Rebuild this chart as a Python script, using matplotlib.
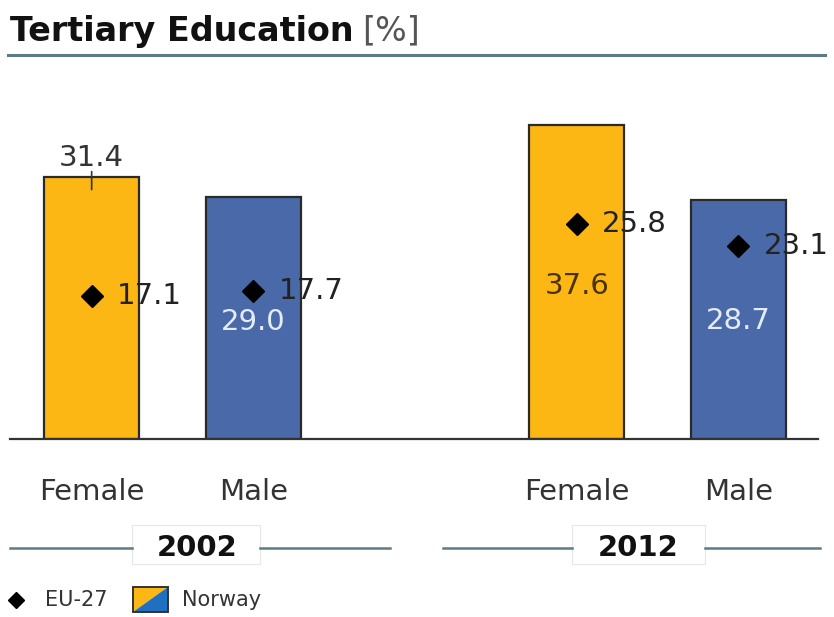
import matplotlib
matplotlib.use("Agg")
import matplotlib.pyplot as plt
from matplotlib.lines import Line2D
from matplotlib.patches import Polygon, Rectangle
import matplotlib.transforms as mtransforms

# ---- data ----
years = ["2002", "2012"]
categories = ["Female", "Male", "Female", "Male"]
bar_year = ["2002", "2002", "2012", "2012"]
norway = [31.4, 29.0, 37.6, 28.7]
eu27 = [17.1, 17.7, 25.8, 23.1]
norway_labels = ["31.4", "29.0", "37.6", "28.7"]
eu27_labels = ["17.1", "17.7", "25.8", "23.1"]

YELLOW = "#FDB714"
BLUE = "#4A69A8"
EDGE = "#2a2a2a"
LINEC = "#5E7B84"
TXT = "#333333"

W, H = 834, 617
fig = plt.figure(figsize=(W / 100, H / 100), dpi=100)
fig.patch.set_facecolor("white")

def fx(px):
    return px / W

def fy(py):
    return 1 - py / H

# axes geometry
unit = 161.7
left_px, right_px = 10, 818
base_py = 439
ppu = 8.34
ymax = 40
ax = fig.add_axes([fx(left_px), fy(base_py), (right_px - left_px) / W, ymax * ppu / H])
center2002 = 172.5
ax.set_xlim((left_px - center2002) / unit, (right_px - center2002) / unit)
ax.set_ylim(0, ymax)

group_center = {"2002": 0.0, "2012": 3.0}
offsets = [-0.5, 0.5, -0.5, 0.5]
xs = [group_center[y] + o for y, o in zip(bar_year, offsets)]
colors = [YELLOW, BLUE, YELLOW, BLUE]

ax.bar(xs, norway, width=0.588, color=colors, edgecolor=EDGE, linewidth=1.6, zorder=2)
ax.plot(xs, eu27, linestyle="none", marker="D", markersize=11, color="black", zorder=4)

FS = 21
for x, v, lab in zip(xs, eu27, eu27_labels):
    ax.annotate(lab, xy=(x, v), xytext=(18, 0), textcoords="offset points",
                ha="left", va="center", fontsize=FS, color="#222222", zorder=5)

# Norway value labels
label_style = [
    dict(pos="above", color="#333333"),
    dict(pos=-15.0, color="#E4ECF8"),
    dict(pos=-19.2, color="#4a3300"),
    dict(pos=-14.5, color="#E4ECF8"),
]
for x, v, lab, st in zip(xs, norway, norway_labels, label_style):
    if st["pos"] == "above":
        ax.annotate(lab, xy=(x, v), xytext=(0, 14), textcoords="offset points",
                    ha="center", va="center", fontsize=FS, color=st["color"], zorder=5)
        ax.annotate("", xy=(x, v), xytext=(0, 4), textcoords="offset points",
                    arrowprops=dict(arrowstyle="-", color="#333333", lw=1.2,
                                    shrinkA=0, shrinkB=0), zorder=5)
        ax.annotate("", xy=(x, v), xytext=(0, -9), textcoords="offset points",
                    arrowprops=dict(arrowstyle="-", color="#333333", lw=1.2,
                                    shrinkA=0, shrinkB=0), zorder=5)
    else:
        ax.text(x, v + st["pos"], lab, ha="center", va="center", fontsize=FS,
                color=st["color"], zorder=5)

for s in ["top", "right", "left"]:
    ax.spines[s].set_visible(False)
ax.spines["bottom"].set_color("#333333")
ax.spines["bottom"].set_linewidth(1.6)
ax.set_yticks([])
ax.set_xticks([])
ax.patch.set_alpha(0)

trans = mtransforms.blended_transform_factory(ax.transData, ax.transAxes)
lab_y = -(492 - base_py) / (ymax * ppu)
for x, c in zip(xs, categories):
    ax.text(x, lab_y, c, transform=trans, ha="center", va="center",
            fontsize=FS, color=TXT)

# title
fig.text(fx(10), fy(31), "Tertiary Education", fontsize=24, fontweight="bold",
         color="#111111", ha="left", va="center")
fig.text(fx(362), fy(31), "[%]", fontsize=24, color="#555555", ha="left", va="center")
fig.add_artist(Line2D([fx(8), fx(825)], [fy(55), fy(55)], color=LINEC, lw=2.2))

# year labels with lines
year_layout = {
    "2002": dict(cx=197, box=(132, 260), lines=[(10, 132), (260, 390)]),
    "2012": dict(cx=638, box=(572, 705), lines=[(443, 572), (705, 820)]),
}
for yr in years:
    lay = year_layout[yr]
    for a, b in lay["lines"]:
        fig.add_artist(Line2D([fx(a), fx(b)], [fy(548), fy(548)], color=LINEC, lw=1.8))
    b0, b1 = lay["box"]
    fig.add_artist(Rectangle((fx(b0), fy(564)), (b1 - b0) / W, 39 / H,
                             transform=fig.transFigure, facecolor="white",
                             edgecolor="#e6e6e6", lw=0.8))
    fig.text(fx(lay["cx"]), fy(548), yr, fontsize=21, fontweight="bold",
             color="#111111", ha="center", va="center")

# legend
fig.add_artist(Line2D([fx(16)], [fy(600)], marker="D", markersize=8, color="black",
                      linestyle="none"))
fig.text(fx(45), fy(600), "EU-27", fontsize=15, color=TXT, ha="left", va="center")
x0, x1, y0, y1 = fx(133), fx(168), fy(612), fy(587)
fig.add_artist(Polygon([(x0, y0), (x0, y1), (x1, y1)], closed=True,
                       transform=fig.transFigure, facecolor=YELLOW, edgecolor="none"))
fig.add_artist(Polygon([(x0, y0), (x1, y1), (x1, y0)], closed=True,
                       transform=fig.transFigure, facecolor="#1F70C0", edgecolor="none"))
fig.add_artist(Rectangle((x0, y0), x1 - x0, y1 - y0, transform=fig.transFigure,
                         facecolor="none", edgecolor="#333333", lw=1.4))
fig.text(fx(182), fy(600), "Norway", fontsize=15, color=TXT, ha="left", va="center")

fig.savefig("out.png", dpi=100, facecolor="white")
